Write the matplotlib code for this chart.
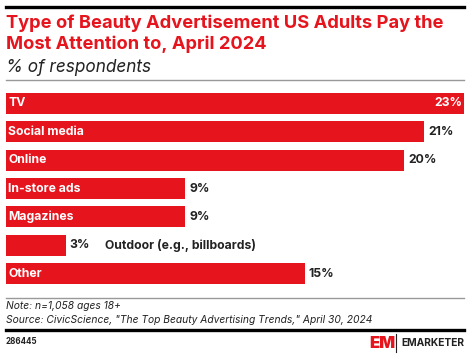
import matplotlib.pyplot as plt
from matplotlib.lines import Line2D

# data
categories = ["TV", "Social media", "Online", "In-store ads", "Magazines",
              "Outdoor (e.g., billboards)", "Other"]
values = [23, 21, 20, 9, 9, 3, 15]

red = "#E5141D"
W, H = 470, 355

fig = plt.figure(figsize=(4.7, 3.55), dpi=100)
plt.rcParams['font.family'] = ['Inter', 'DejaVu Sans']


def fx(px):
    return px / W


def fy(py):
    return 1 - py / H


def hline(y, x0, x1, color, lw):
    fig.add_artist(Line2D([fx(x0), fx(x1)], [fy(y), fy(y)], color=color, lw=lw,
                          transform=fig.transFigure))


# header
hline(6.5, 6, 464, "black", 2.4)
fig.text(fx(6), fy(23), "Type of Beauty Advertisement US Adults Pay the",
         color=red, fontsize=13.2, fontweight='bold', va='center')
fig.text(fx(6), fy(44), "Most Attention to, April 2024",
         color=red, fontsize=13.2, fontweight='bold', va='center')
fig.text(fx(6), fy(68), "% of respondents", color="#222222", fontsize=12.4,
         style='italic', va='center')
hline(80, 6, 464, "#999999", 1.0)

# bars
ax = fig.add_axes([fx(6), fy(284), fx(458), (284 - 93) / H])
pos = list(range(len(values)))
ax.barh(pos, values, height=0.74, color=red, edgecolor='none')
ax.set_xlim(0, 23)
ax.set_ylim(6.37, -0.37)
ax.axis('off')

for i, (cat, v) in enumerate(zip(categories, values)):
    if v >= 5:
        ax.text(0.12, i, cat, color='white', fontsize=8.8, fontweight='bold',
                va='center', ha='left')
        if i == 0:
            ax.text(v - 0.1, i, f"{v}%", color='white', fontsize=8.8,
                    fontweight='bold', va='center', ha='right')
        else:
            ax.text(v + 0.2, i, f"{v}%", color='#222222', fontsize=8.8,
                    fontweight='bold', va='center', ha='left')
    else:
        ax.text(v + 0.2, i, f"{v}%", color='#222222', fontsize=8.8,
                fontweight='bold', va='center', ha='left')
        ax.text(v + 1.97, i, cat, color='#222222', fontsize=8.8,
                fontweight='bold', va='center', ha='left')

# footer
hline(298, 6, 464, "#999999", 1.0)
fig.text(fx(6), fy(306), "Note: n=1,058 ages 18+", color="#222222",
         fontsize=7.4, style='italic', va='center')
fig.text(fx(6), fy(320),
         'Source: CivicScience, "The Top Beauty Advertising Trends," April 30, 2024',
         color="#222222", fontsize=7.4, style='italic', va='center')
hline(330, 6, 464, "black", 2.4)
fig.text(fx(6), fy(342), "286445", color="#222222", fontsize=5.8,
         fontweight='bold', va='center')

# logo
fig.text(fx(369), fy(343), "EM", color=red, fontsize=12, fontweight='black',
         va='center', ha='left')
fig.add_artist(Line2D([fx(396), fx(396)], [fy(334), fy(352)], color="#222222",
                      lw=0.8, transform=fig.transFigure))
fig.text(fx(464), fy(343), "EMARKETER", color="#222222", fontsize=7.4,
         fontweight='bold', va='center', ha='right')

fig.savefig("out.png", dpi=100)
